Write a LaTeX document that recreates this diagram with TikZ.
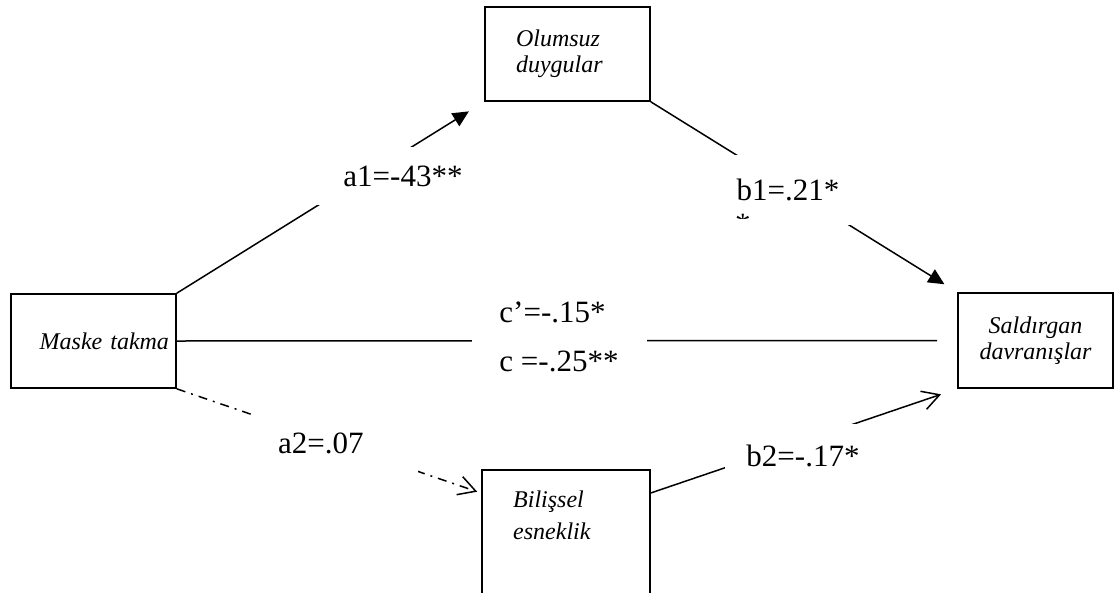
\documentclass[tikz,border=0pt]{standalone}
\usepackage{fontspec}
\setmainfont{Liberation Serif}
\usetikzlibrary{arrows.meta}

\begin{document}
\begin{tikzpicture}[
  x=1pt, y=-1pt,
  varbox/.style={draw,line width=1.7pt,minimum width=165pt,minimum height=94pt,inner sep=0pt,font=\fontsize{24}{26}\selectfont\itshape},
  vartext/.style={inner sep=0pt,align=left,font=\fontsize{24}{26}\selectfont\itshape},
  coef/.style={fill=white,inner sep=0pt,font=\fontsize{31}{36}\selectfont},
  arrow/.style={-{Triangle[length=16pt,width=15pt]},line width=1.5pt},
  openarrow/.style={-{Straight Barb[length=17pt,width=19pt]},line width=1.5pt},
  dashdot/.style={dash pattern=on 9pt off 6pt on 2pt off 6pt}
]
\clip (0,0) rectangle (1114,592);

\node[varbox,text width=151pt,align=right] (maske) at (93.5,341) {Maske takma};
\node[varbox,text width=103pt,align=left] (olumsuz) at (567.5,54) {Olumsuz\\duygular};
\node[varbox,minimum width=155pt,minimum height=95pt,align=center] (saldirgan) at (1035.5,340.5) {Saldırgan\\davranışlar};
\node[varbox,minimum width=168pt,minimum height=150pt,anchor=north west] (bilissel) at (481,469) {};
\node[vartext,anchor=north west] (bilisseltext) at ([shift={(32,22)}]bilissel.north west) {Bilişsel\\[6pt]esneklik};

\draw[arrow,shorten >=18pt] (maske.north east) -- (olumsuz.south west);
\draw[arrow,shorten >=15pt] (olumsuz.south east) -- (saldirgan.north west);
\draw[line width=1.5pt,shorten >=20pt] (maske.east) -- (saldirgan.west);
\draw[openarrow,dashdot,shorten >=4pt] (maske.south east) -- ([yshift=-24pt]bilissel.north west);
\draw[openarrow,shorten >=17pt] ([yshift=-24pt]bilissel.north east) -- (saldirgan.south west);

\node[coef,minimum width=190pt,minimum height=58pt] (a1) at (403,176) {a1=-43**};
\node[coef,minimum width=126pt,minimum height=70pt] (b1) at (788,190) {b1=.21*};
\node[coef,minimum width=175pt,align=left] (c) at (559,337) {c’=-.15*\\[13pt]c =-.25**};
\node[coef,minimum width=165pt,minimum height=70pt,text width=114pt,align=left] (a2) at (335,443) {a2=.07};
\node[coef,minimum width=156pt,minimum height=64pt] (b2) at (803,456) {b2=-.17*};
\begin{scope}
  \clip (720,200) rectangle (770,218);
  \node[coef,fill=none,anchor=base west] (b1star) at (735,234) {*};
\end{scope}
\end{tikzpicture}
\end{document}
